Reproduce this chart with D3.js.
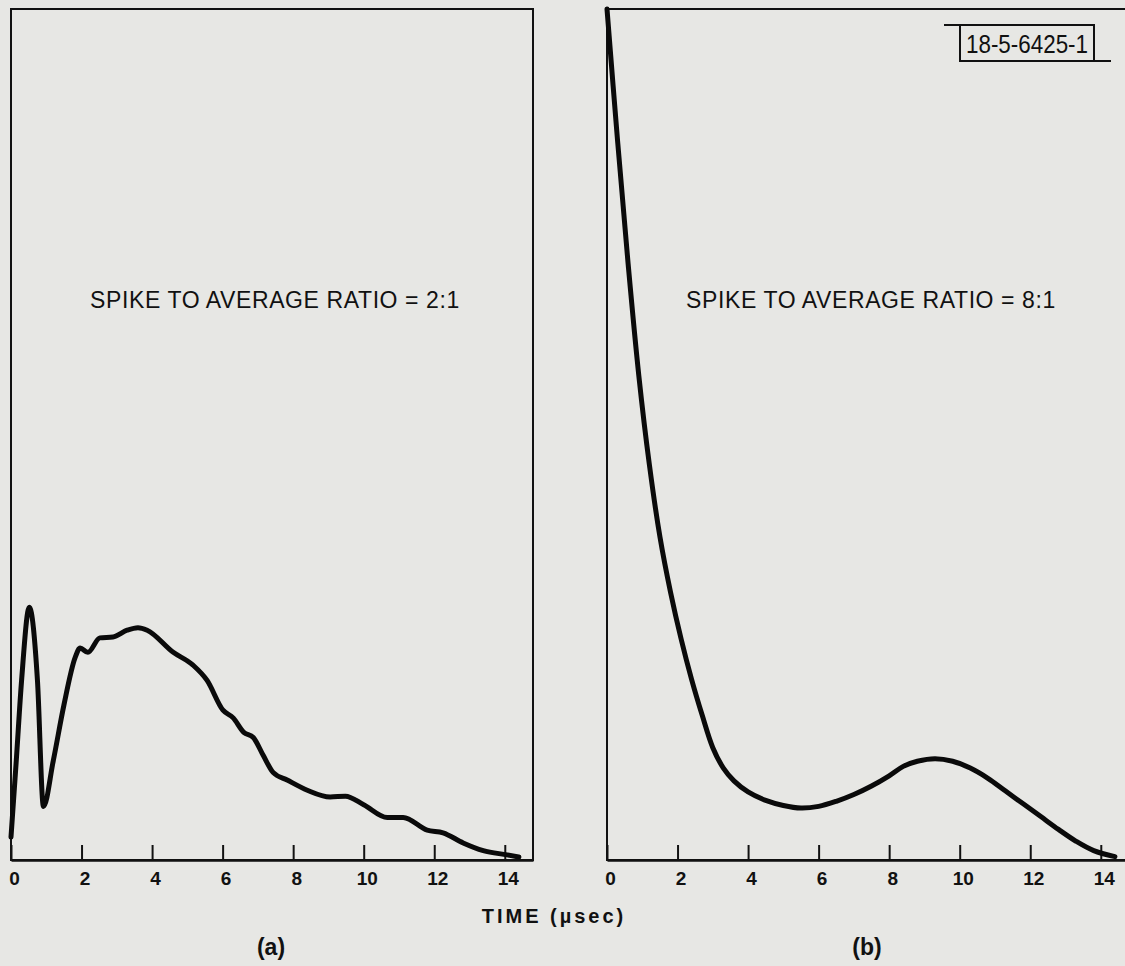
<!DOCTYPE html>
<html lang="en">
<head>
    <meta charset="utf-8">
    <title>Spike to average ratio</title>
    <script src="https://cdn.jsdelivr.net/npm/d3@7"></script>
    <style>
        body { margin: 0; background: #e7e7e4; }
        text { font-family: "Liberation Sans", "DejaVu Sans", sans-serif; fill: #111; }
    </style>
</head>
<body>
<script type="text/javascript">
    // time in usec, amplitude in arbitrary units (100 = top of frame)
    var timeA = [0, 0.15, 0.3, 0.52, 0.75, 0.92, 1.2, 1.5, 1.82, 1.96, 2.18, 2.52, 2.89, 3.29, 3.6, 3.86,
        4.6, 5.16, 5.56, 6.01, 6.3, 6.6, 6.87, 7.15, 7.43, 7.83, 8.4, 9.05, 9.48, 10.0, 10.67, 11.12,
        11.8, 12.25, 12.82, 13.39, 14.07, 14.4];
    var valueA = [2.7, 11.7, 21.1, 29.7, 21.1, 6.3, 11.7, 18.2, 23.8, 24.9, 24.4, 26.1, 26.2, 27.0, 27.3, 27.0,
        24.4, 22.9, 21.1, 17.6, 16.7, 15.0, 14.4, 12.3, 10.3, 9.4, 8.2, 7.4, 7.5, 6.5, 5.0, 5.0,
        3.5, 3.2, 2.0, 1.1, 0.6, 0.35];

    var timeB = [0, 0.3, 0.6, 0.9, 1.2, 1.5, 1.8, 2.1, 2.4, 2.7, 3.0, 3.3, 3.6, 4.0, 4.5, 5.0, 5.5,
        6.0, 6.5, 7.0, 7.5, 8.0, 8.4, 8.8, 9.3, 9.8, 10.3, 10.8, 11.3, 11.8, 12.3, 12.8, 13.3, 13.8, 14.4];
    var valueB = [100, 84.5, 70, 57, 46.5, 38, 31.5, 26, 21.2, 17, 13.2, 10.8, 9.3, 8.0, 7.0, 6.4, 6.1,
        6.3, 6.9, 7.7, 8.7, 9.9, 11.0, 11.6, 11.9, 11.6, 10.8, 9.6, 8.1, 6.6, 5.1, 3.6, 2.2, 1.1, 0.4];

    var tickValues = [0, 2, 4, 6, 8, 10, 12, 14];
    var ratioA = "SPIKE TO AVERAGE RATIO = 2:1";
    var ratioB = "SPIKE TO AVERAGE RATIO = 8:1";

    var width = 1125, height = 966;
    var plotTop = 9, plotBottom = 860;
    var panelWidth = 522;

    var svg = d3.select("body")
            .append("svg")
            .attr("width", width)
            .attr("height", height);

    var y = d3.scaleLinear().domain([0, 100]).range([plotBottom, plotTop]);

    function drawPanel(left, times, values, ratio, tag, curve) {
        var x = d3.scaleLinear().domain([0, 14.8]).range([left, left + panelWidth]);
        var g = svg.append("g");

        // frame
        g.append("rect")
            .attr("x", x(0))
            .attr("y", y(100))
            .attr("width", x(14.8) - x(0))
            .attr("height", y(0) - y(100))
            .attr("fill", "none")
            .attr("stroke", "#111")
            .attr("stroke-width", 2);

        var axis = d3.axisBottom(x)
            .tickValues(tickValues)
            .tickSizeInner(-15)
            .tickSizeOuter(0)
            .tickPadding(12)
            .tickFormat(d3.format("d"));

        var ax = g.append("g")
            .attr("transform", "translate(0," + y(0) + ")")
            .call(axis);
        ax.select(".domain").attr("stroke", "#111").attr("stroke-width", 2.5);
        ax.selectAll(".tick line").attr("stroke", "#111").attr("stroke-width", 2);
        ax.selectAll(".tick text")
            .attr("font-family", "Liberation Sans, sans-serif")
            .attr("font-size", 19)
            .attr("font-weight", "bold")
            .attr("fill", "#111")
            .attr("dx", "3px");

        var pts = times.map(function(t, i) { return [t, values[i]]; });
        var line = d3.line()
            .x(function(d) { return x(d[0]); })
            .y(function(d) { return y(d[1]); })
            .curve(curve);

        g.append("path")
            .attr("d", line(pts))
            .attr("fill", "none")
            .attr("stroke", "#0a0a0a")
            .attr("stroke-width", 5)
            .attr("stroke-linejoin", "round")
            .attr("stroke-linecap", "round");

        g.append("text")
            .attr("x", x(0) + 264)
            .attr("y", 308)
            .attr("text-anchor", "middle")
            .attr("font-size", 23)
            .attr("letter-spacing", "0.6px")
            .text(ratio);

        g.append("text")
            .attr("x", x(0) + 260)
            .attr("y", 955)
            .attr("text-anchor", "middle")
            .attr("font-size", 23)
            .attr("font-weight", "bold")
            .text(tag);
    }

    drawPanel(11, timeA, valueA, ratioA, "(a)", d3.curveMonotoneX);
    drawPanel(607, timeB, valueB, ratioB, "(b)", d3.curveCatmullRom);

    svg.append("text")
        .attr("x", 554)
        .attr("y", 923)
        .attr("text-anchor", "middle")
        .attr("font-size", 20)
        .attr("font-weight", "bold")
        .attr("letter-spacing", "3px")
        .text("TIME (\u00b5sec)");

    // drawing number box
    var box = svg.append("g");
    box.append("rect")
        .attr("x", 960).attr("y", 25)
        .attr("width", 134).attr("height", 36)
        .attr("fill", "none")
        .attr("stroke", "#111")
        .attr("stroke-width", 2);
    box.append("line")
        .attr("x1", 944).attr("x2", 960).attr("y1", 25).attr("y2", 25)
        .attr("stroke", "#111").attr("stroke-width", 2);
    box.append("line")
        .attr("x1", 1094).attr("x2", 1111).attr("y1", 61).attr("y2", 61)
        .attr("stroke", "#111").attr("stroke-width", 2);
    box.append("text")
        .attr("x", 1027)
        .attr("y", 53)
        .attr("text-anchor", "middle")
        .attr("font-family", "DejaVu Sans Condensed, sans-serif")
        .attr("font-size", 25)
        .attr("textLength", 122)
        .attr("lengthAdjust", "spacingAndGlyphs")
        .text("18-5-6425-1");
</script>
</body>
</html>
